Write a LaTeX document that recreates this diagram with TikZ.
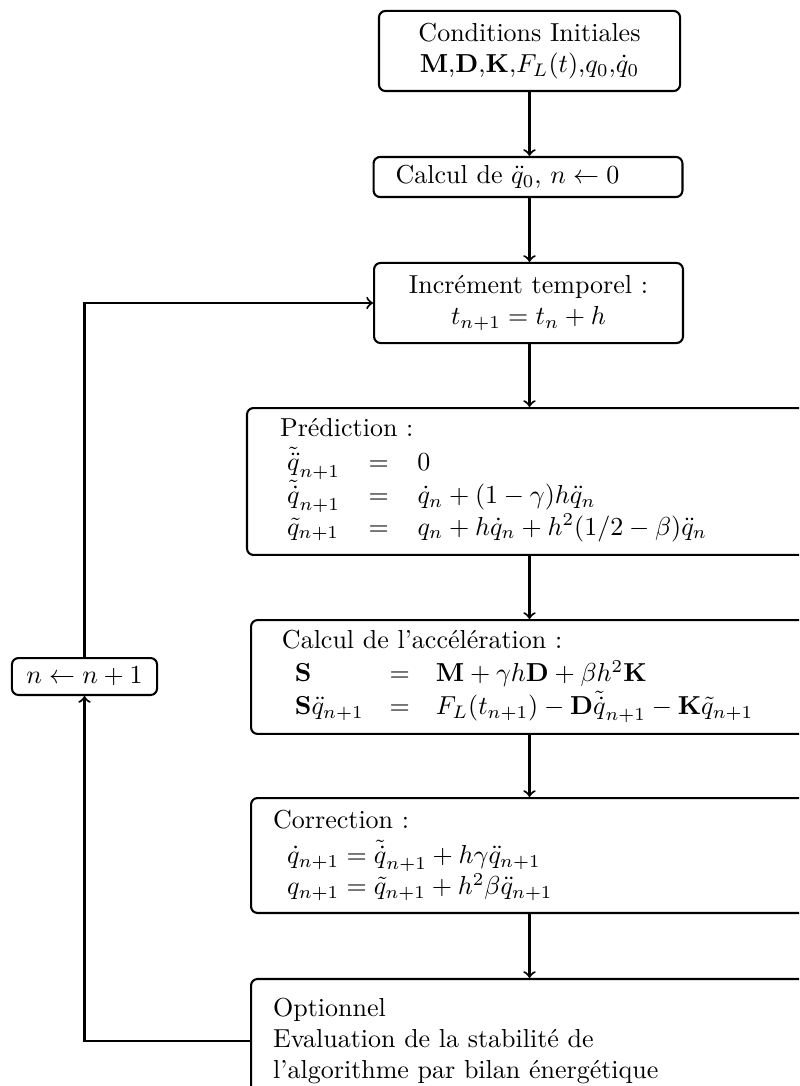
\documentclass[tikz,border=0pt]{standalone}
\usetikzlibrary{positioning}
\begin{document}
\begin{tikzpicture}[x=0.3846pt,y=-0.3846pt,
  box/.style={draw, line width=0.8pt, rounded corners=2.5pt, inner ysep=0pt},
  cbox/.style={box, align=center},
  lbox/.style={box, align=left, inner xsep=#1},
  arr/.style={line width=0.8pt,->}]
\useasboundingbox (0,0) rectangle (799,1086);
\clip (0,0) rectangle (799,1086);
\node[cbox, minimum width=115.8pt, minimum height=30.8pt] (b1) at (529.5,51)
  {Conditions Initiales\\ $\mathbf{M}$,$\mathbf{D}$,$\mathbf{K}$,$F_L(t)$,$q_0$,$\dot{q}_0$};
\node[lbox=8.5pt, text width=101.8pt, minimum height=15.4pt] (b2) at (528,177)
  {Calcul de $\ddot{q}_0$, $n \leftarrow 0$};
\node[cbox, minimum width=118.8pt, minimum height=30.8pt] (b3) at (528.5,303)
  {Incr\'ement temporel :\\ $t_{n+1}=t_n+h$};
\node[lbox=12.7pt, text width=191.5pt, minimum height=56.5pt] (b4) at (529,481.5)
  {Pr\'ediction :\\[3pt]
   $\begin{array}{@{\hspace{2.7pt}}l@{\hspace{11pt}}c@{\hspace{11pt}}l}
   \tilde{\ddot{q}}_{n+1} & = & 0\\
   \tilde{\dot{q}}_{n+1} & = & \dot{q}_n+(1-\gamma)h\ddot{q}_n\\
   \tilde{q}_{n+1} & = & q_n+h\dot{q}_n+h^2(1/2-\beta)\ddot{q}_n
   \end{array}$};
\node[lbox=11.9pt, text width=190pt, minimum height=43.8pt] (b5) at (529,677)
  {Calcul de l'acc\'el\'eration :\\[3pt]
   $\begin{array}{lcl}
   \mathbf{S} & = & \mathbf{M}+\gamma h\mathbf{D}+\beta h^2\mathbf{K}\\
   \mathbf{S}\ddot{q}_{n+1} & = & F_L(t_{n+1})-\mathbf{D}\tilde{\dot{q}}_{n+1}-\mathbf{K}\tilde{q}_{n+1}
   \end{array}$};
\node[lbox=8.5pt, text width=196.8pt, minimum height=44.2pt] (b6) at (529,855.5)
  {Correction :\\[1.5pt]
   \hspace{5.4pt}$\dot{q}_{n+1}=\tilde{\dot{q}}_{n+1}+h\gamma\ddot{q}_{n+1}$\\
   \hspace{5.4pt}$q_{n+1}=\tilde{q}_{n+1}+h^2\beta\ddot{q}_{n+1}$};
\node[lbox=8.5pt, text width=196.8pt, minimum height=47.7pt] (b7) at (529,1041)
  {Optionnel\\ Evaluation de la stabilit\'e de\\ l'algorithme par bilan \'energ\'etique};
\node[cbox, minimum width=55.8pt, minimum height=14.2pt] (nb) at (84.5,676.5)
  {$n \leftarrow n+1$};
\draw[arr] (b1.south) -- (b1.south |- b2.north);
\draw[arr] (b2.south -| b1.south) -- (b1.south |- b3.north);
\draw[arr] (b3.south -| b1.south) -- (b1.south |- b4.north);
\draw[arr] (b4.south -| b1.south) -- (b1.south |- b5.north);
\draw[arr] (b5.south -| b1.south) -- (b1.south |- b6.north);
\draw[arr] (b6.south -| b1.south) -- (b1.south |- b7.north);
\draw[arr] (b7.west) -| (nb.south);
\draw[arr] (nb.north) |- (b3.west);
\end{tikzpicture}
\end{document}
